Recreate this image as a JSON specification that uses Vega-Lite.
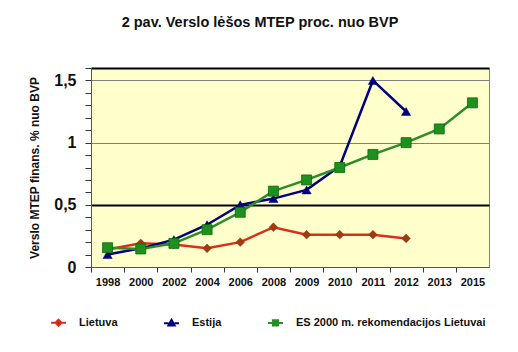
{
  "$schema": "https://vega.github.io/schema/vega-lite/v6.json",
  "autosize": {"type": "none"},
  "width": 398,
  "height": 199,
  "padding": {"left": 91, "top": 68, "right": 29, "bottom": 85},
  "background": "white",
  "title": {
    "text": "2 pav. Verslo lėšos MTEP proc. nuo BVP",
    "font": "Liberation Sans",
    "fontSize": 14.5,
    "fontWeight": "bold",
    "color": "#111111",
    "anchor": "middle",
    "dx": -30,
    "offset": 37
  },
  "config": {
    "view": {"fill": "#ffffcc", "stroke": "#808080", "strokeWidth": 1},
    "font": "Liberation Sans"
  },
  "data": {
    "values": [
      {"year": "1998", "series": "Lietuva", "value": 0.14},
      {"year": "2000", "series": "Lietuva", "value": 0.19},
      {"year": "2002", "series": "Lietuva", "value": 0.18},
      {"year": "2004", "series": "Lietuva", "value": 0.15},
      {"year": "2006", "series": "Lietuva", "value": 0.2},
      {"year": "2008", "series": "Lietuva", "value": 0.32},
      {"year": "2009", "series": "Lietuva", "value": 0.26},
      {"year": "2010", "series": "Lietuva", "value": 0.26},
      {"year": "2011", "series": "Lietuva", "value": 0.26},
      {"year": "2012", "series": "Lietuva", "value": 0.23},
      {"year": "1998", "series": "Estija", "value": 0.1},
      {"year": "2000", "series": "Estija", "value": 0.15},
      {"year": "2002", "series": "Estija", "value": 0.22},
      {"year": "2004", "series": "Estija", "value": 0.34},
      {"year": "2006", "series": "Estija", "value": 0.5},
      {"year": "2008", "series": "Estija", "value": 0.55},
      {"year": "2009", "series": "Estija", "value": 0.62},
      {"year": "2010", "series": "Estija", "value": 0.81},
      {"year": "2011", "series": "Estija", "value": 1.5},
      {"year": "2012", "series": "Estija", "value": 1.25},
      {"year": "1998", "series": "ES 2000 m. rekomendacijos Lietuvai", "value": 0.155},
      {"year": "2000", "series": "ES 2000 m. rekomendacijos Lietuvai", "value": 0.145},
      {"year": "2002", "series": "ES 2000 m. rekomendacijos Lietuvai", "value": 0.19},
      {"year": "2004", "series": "ES 2000 m. rekomendacijos Lietuvai", "value": 0.3},
      {"year": "2006", "series": "ES 2000 m. rekomendacijos Lietuvai", "value": 0.44},
      {"year": "2008", "series": "ES 2000 m. rekomendacijos Lietuvai", "value": 0.61},
      {"year": "2009", "series": "ES 2000 m. rekomendacijos Lietuvai", "value": 0.7},
      {"year": "2010", "series": "ES 2000 m. rekomendacijos Lietuvai", "value": 0.8},
      {"year": "2011", "series": "ES 2000 m. rekomendacijos Lietuvai", "value": 0.905},
      {"year": "2012", "series": "ES 2000 m. rekomendacijos Lietuvai", "value": 1.0},
      {"year": "2013", "series": "ES 2000 m. rekomendacijos Lietuvai", "value": 1.11},
      {"year": "2015", "series": "ES 2000 m. rekomendacijos Lietuvai", "value": 1.32}
    ]
  },
  "encoding": {
    "x": {
      "field": "year",
      "type": "ordinal",
      "sort": null,
      "scale": {"type": "point", "padding": 0.5, "domain": ["1998", "2000", "2002", "2004", "2006", "2008", "2009", "2010", "2011", "2012", "2013", "2015"]},
      "axis": {
        "title": null,
        "labelAngle": 0,
        "labelFont": "Liberation Sans",
        "labelFontSize": 11,
        "labelFontWeight": "bold",
        "labelColor": "#111111",
        "labelPadding": 4,
        "tickOffset": -16.58,
        "labelOffset": 16.58,
        "tickSize": 5,
        "tickColor": "#333333",
        "domainColor": "#555555",
        "grid": false
      }
    },
    "y": {
      "field": "value",
      "type": "quantitative",
      "scale": {"domain": [0, 1.6], "nice": false, "zero": true},
      "axis": {
        "title": "Verslo MTEP finans. % nuo BVP",
        "titleFont": "Liberation Sans",
        "titleFontSize": 12,
        "titleFontWeight": "bold",
        "titleColor": "#111111",
        "titlePadding": 12,
        "values": [0, 0.1, 0.2, 0.3, 0.4, 0.5, 0.6, 0.7, 0.8, 0.9, 1, 1.1, 1.2, 1.3, 1.4, 1.5, 1.6],
        "labelExpr": "(datum.value == 0 || datum.value == 0.5 || datum.value == 1 || datum.value == 1.5) ? replace(format(datum.value, ''), '.', ',') : ''",
        "labelFont": "Liberation Sans",
        "labelFontSize": 16,
        "labelFontWeight": "bold",
        "labelColor": "#111111",
        "labelPadding": 9,
        "tickSize": 6,
        "tickColor": "#333333",
        "domainColor": "#555555",
        "grid": true,
        "gridColor": {"condition": {"test": "datum.value == 0.5 || datum.value == 1.6", "value": "#000000"}, "value": "#7f7f7f"},
        "gridWidth": {"condition": {"test": "datum.value == 0.5 || datum.value == 1.6", "value": 2}, "value": 1},
        "gridOpacity": {"condition": {"test": "datum.value == 0.5 || datum.value == 1 || datum.value == 1.5 || datum.value == 1.6", "value": 1}, "value": 0}
      }
    }
  },
  "layer": [
    {
      "transform": [{"filter": "datum.series == 'Lietuva'"}],
      "mark": {"type": "line", "strokeWidth": 2.5, "color": "#d9301c"}
    },
    {
      "transform": [{"filter": "datum.series == 'Estija'"}],
      "mark": {"type": "line", "strokeWidth": 2.5, "color": "#000080"}
    },
    {
      "transform": [{"filter": "datum.series == 'ES 2000 m. rekomendacijos Lietuvai'"}],
      "mark": {"type": "line", "strokeWidth": 2.5, "color": "#2a8c2a"}
    },
    {
      "transform": [{"filter": "datum.series == 'Lietuva'"}],
      "mark": {"type": "point", "shape": "diamond", "filled": true, "fill": "#a03a12", "stroke": "#8a3010", "strokeWidth": 0.5, "size": 75, "opacity": 1}
    },
    {
      "transform": [{"filter": "datum.series == 'Estija'"}],
      "mark": {"type": "point", "shape": "triangle-up", "filled": true, "fill": "#000080", "stroke": "#000060", "strokeWidth": 0.5, "size": 85, "opacity": 1}
    },
    {
      "transform": [{"filter": "datum.series == 'ES 2000 m. rekomendacijos Lietuvai'"}],
      "mark": {"type": "point", "shape": "square", "filled": true, "fill": "#1e901e", "stroke": "#0b6b0b", "strokeWidth": 0.8, "size": 100, "opacity": 1}
    },
    {
      "transform": [{"filter": "datum.value < 0"}],
      "mark": {"type": "point", "size": 225, "strokeWidth": 2, "filled": true, "opacity": 1},
      "encoding": {
        "shape": {
          "field": "series",
          "type": "nominal",
          "scale": {
            "domain": ["Lietuva", "Estija", "ES 2000 m. rekomendacijos Lietuvai"],
            "range": [
              "M-1,0H-0.4M0.4,0H1M0,-0.4L0.4,0L0,0.4L-0.4,0Z",
              "M-1,0H-0.4M0.4,0H1M0,-0.45L0.42,0.3L-0.42,0.3Z",
              "M-1,0H-0.35M0.35,0H1M-0.35,-0.35H0.35V0.35H-0.35Z"
            ]
          },
          "legend": {
            "title": null,
            "orient": "none",
            "legendX": -41,
            "legendY": 246,
            "direction": "horizontal",
            "columnPadding": 42,
            "symbolSize": 225,
            "symbolStrokeWidth": 2,
            "labelFont": "Liberation Sans",
            "labelFontSize": 11,
            "labelFontWeight": "bold",
            "labelColor": "#111111",
            "labelOffset": 12,
            "labelLimit": 400
          }
        },
        "fill": {
          "field": "series",
          "type": "nominal",
          "scale": {
            "domain": ["Lietuva", "Estija", "ES 2000 m. rekomendacijos Lietuvai"],
            "range": ["#a03a12", "#000080", "#1e901e"]
          }
        },
        "stroke": {
          "field": "series",
          "type": "nominal",
          "scale": {
            "domain": ["Lietuva", "Estija", "ES 2000 m. rekomendacijos Lietuvai"],
            "range": ["#d9301c", "#000080", "#2a8c2a"]
          }
        }
      }
    }
  ]
}
